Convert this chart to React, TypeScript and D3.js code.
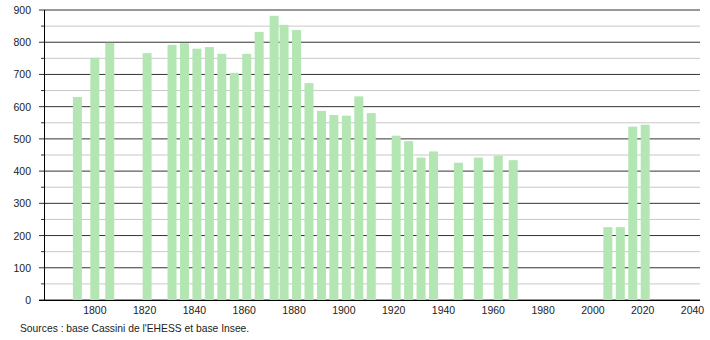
import React from "react";
import * as d3 from "d3";

const years = [1793, 1800, 1806, 1821, 1831, 1836, 1841, 1846, 1851, 1856, 1861, 1866, 1872, 1876, 1881, 1886, 1891, 1896, 1901, 1906, 1911, 1921, 1926, 1931, 1936, 1946, 1954, 1962, 1968, 2006, 2011, 2016, 2021];
const population = [630, 752, 798, 766, 792, 797, 780, 785, 764, 705, 764, 832, 882, 854, 838, 673, 587, 574, 572, 632, 580, 510, 493, 442, 461, 426, 442, 448, 434, 226, 226, 538, 544];
const xTicks = [1800, 1820, 1840, 1860, 1880, 1900, 1920, 1940, 1960, 1980, 2000, 2020, 2040];
const yMajor = [0, 100, 200, 300, 400, 500, 600, 700, 800, 900];
const yMinor = [50, 150, 250, 350, 450, 550, 650, 750, 850];
const source = "Sources : base Cassini de l'EHESS et base Insee.";

export default function App() {
  const W = 710, H = 340;
  const x = d3.scaleLinear().domain([1780, 2043]).range([45, 700]);
  const y = d3.scaleLinear().domain([0, 900]).range([300, 10]);
  const bw = 9;
  const font = "'Liberation Sans', Arial, sans-serif";
  return (
    <svg width={W} height={H} style={{ position: "absolute", left: 0, top: 0 }} fontFamily={font}>
      <rect width={W} height={H} fill="#fff" />
      {yMinor.map((v) => (
        <g key={"mi" + v}>
          <line x1={44} x2={700} y1={y(v)} y2={y(v)} stroke="#c8c8c8" strokeWidth={1} />
          <line x1={41} x2={44} y1={y(v)} y2={y(v)} stroke="#333" strokeWidth={1} />
        </g>
      ))}
      {yMajor.map((v) => (
        <g key={"ma" + v}>
          <line x1={39} x2={700} y1={y(v)} y2={y(v)} stroke="#333" strokeWidth={1} />
          <text x={31} y={y(v) + 4} fontSize={10.5} textAnchor="end" fill="#222">{v}</text>
        </g>
      ))}
      {years.map((yr, i) => (
        <rect key={yr} x={x(yr) - bw / 2} y={y(population[i])} width={bw} height={y(0) - y(population[i])} fill="#b3e6b3" />
      ))}
      <line x1={44.5} x2={44.5} y1={y(900)} y2={y(0)} stroke="#000" strokeWidth={1} />
      <line x1={39} x2={700} y1={y(0) + 0.5} y2={y(0) + 0.5} stroke="#000" strokeWidth={1.2} />
      {xTicks.map((t) => (
        <text key={t} x={x(t)} y={314} fontSize={10.5} textAnchor="middle" fill="#222">{t}</text>
      ))}
      <text x={20} y={332} fontSize={10.3} fill="#222">{source}</text>
    </svg>
  );
}
